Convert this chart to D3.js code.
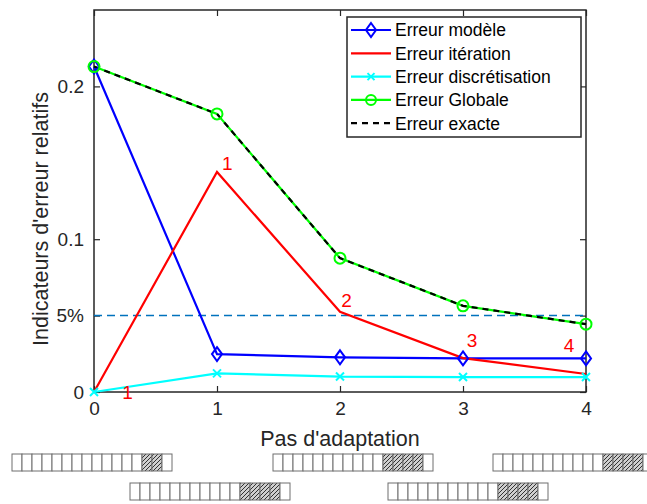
<!DOCTYPE html>
<html><head><meta charset="utf-8">
<script src="https://cdn.jsdelivr.net/npm/d3@7"></script>
<style>
body{margin:0;background:#fff;}
text{font-family:"Liberation Sans",Arial,Helvetica,sans-serif;}
</style></head>
<body><svg id="c" width="647" height="504"></svg>
<script>
// ---- data ----
const steps = [0, 1, 2, 3, 4];
const errModele = [0.213, 0.0248, 0.0227, 0.0220, 0.0220];
const errIteration = [0.0, 0.144, 0.0525, 0.0222, 0.0118];
const errDiscret = [0.0, 0.0122, 0.0101, 0.0098, 0.0098];
const errGlobale = [0.213, 0.182, 0.0876, 0.0564, 0.0444];
const errExacte = [0.213, 0.182, 0.0876, 0.0564, 0.0444];
const seuil = 0.05;
const yTickVals = [0, 0.05, 0.1, 0.2];
const yTickLabels = ["0", "5%", "0.1", "0.2"];
const xTickLabels = ["0", "1", "2", "3", "4"];
const legendNames = ["Erreur modèle", "Erreur itération", "Erreur discrétisation", "Erreur Globale", "Erreur exacte"];
const annX = [0.23, 1.04, 2.01, 3.03, 3.82];
const annY = [-0.0005, 0.1497, 0.060, 0.034, 0.0307];
const annText = ["1", "1", "2", "3", "4"];
const meshCells = 16;
const hatchStart = [13, 11, 11, 11, 11];
const hatchEnd = [14, 14, 14, 14, 14];

// ---- layout ----
const svg = d3.select("#c");
const L = 94, R = 586, T = 10, B = 392;
const x = d3.scaleLinear().domain([0, 4]).range([L, R]);
const y = d3.scaleLinear().domain([0, 0.25]).range([B, T]);
const axisCol = "#262626";

const defs = svg.append("defs");
const pat = defs.append("pattern").attr("id", "hatch").attr("patternUnits", "userSpaceOnUse")
  .attr("width", 4).attr("height", 4);
pat.append("rect").attr("width", 4).attr("height", 4).attr("fill", "#cfcfcf");
pat.append("path").attr("d", "M-1,1 l2,-2 M0,4 l4,-4 M3,5 l2,-2").attr("stroke", "#333").attr("stroke-width", 1);
defs.append("clipPath").attr("id", "plotclip").append("rect")
  .attr("x", L - 8).attr("y", T - 8).attr("width", R - L + 16).attr("height", B - T + 16);

// axes box
svg.append("rect").attr("x", L).attr("y", T).attr("width", R - L).attr("height", B - T)
  .attr("fill", "none").attr("stroke", axisCol).attr("stroke-width", 1.5);

// x axis
const xAxis = d3.axisBottom(x).tickValues(steps).tickFormat((d, i) => xTickLabels[i]).tickSize(-6).tickPadding(10);
const gx = svg.append("g").attr("transform", `translate(0,${B})`).call(xAxis);
const xTop = d3.axisTop(x).tickValues(steps).tickFormat("").tickSize(-6);
const gxt = svg.append("g").attr("transform", `translate(0,${T})`).call(xTop);
// y axis
const yAxis = d3.axisLeft(y).tickValues(yTickVals).tickFormat((d, i) => yTickLabels[i]).tickSize(-6).tickPadding(10);
const gy = svg.append("g").attr("transform", `translate(${L},0)`).call(yAxis);
const yRight = d3.axisRight(y).tickValues(yTickVals).tickFormat("").tickSize(-6);
const gyr = svg.append("g").attr("transform", `translate(${R},0)`).call(yRight);
[gx, gxt, gy, gyr].forEach(g => {
  g.select(".domain").remove();
  g.selectAll(".tick line").attr("stroke", axisCol).attr("stroke-width", 1.2);
  g.selectAll(".tick text").attr("fill", axisCol).attr("font-size", 19)
    .attr("font-family", "'Liberation Sans',Arial,sans-serif");
});

// axis labels
svg.append("text").attr("x", x(2)).attr("y", 446).attr("text-anchor", "middle")
  .attr("font-size", 21.5).attr("fill", axisCol).text("Pas d'adaptation");
svg.append("text").attr("transform", `translate(48,219) rotate(-90)`).attr("text-anchor", "middle")
  .attr("font-size", 21.5).attr("fill", axisCol).text("Indicateurs d'erreur relatifs");

const plot = svg.append("g").attr("clip-path", "url(#plotclip)");

// threshold line
plot.append("line").attr("x1", x(0)).attr("x2", x(4)).attr("y1", y(seuil)).attr("y2", y(seuil))
  .attr("stroke", "#0072BD").attr("stroke-width", 1.5).attr("stroke-dasharray", "8,5");

const line = d3.line().x((d, i) => x(steps[i])).y(d => y(d));
function series(vals, color, dash) {
  plot.append("path").datum(vals).attr("d", line).attr("fill", "none").attr("stroke", color)
    .attr("stroke-width", 2.2).attr("stroke-dasharray", dash || null).attr("stroke-linejoin", "miter");
}
series(errModele, "#0000ff");
series(errIteration, "#ff0000");
series(errDiscret, "#00ffff");
series(errGlobale, "#00ff00");
series(errExacte, "#000000", "6,5");

// markers
function diamond(g, cx, cy, r) {
  g.append("path").attr("d", `M${cx},${cy - r}L${cx + r * 0.72},${cy}L${cx},${cy + r}L${cx - r * 0.72},${cy}Z`)
    .attr("fill", "none").attr("stroke", "#0000ff").attr("stroke-width", 2);
}
function xmark(g, cx, cy, r, c) {
  g.append("path").attr("d", `M${cx - r},${cy - r}L${cx + r},${cy + r}M${cx - r},${cy + r}L${cx + r},${cy - r}`)
    .attr("stroke", c).attr("stroke-width", 2);
}
function circ(g, cx, cy, r) {
  g.append("circle").attr("cx", cx).attr("cy", cy).attr("r", r).attr("fill", "none")
    .attr("stroke", "#00ff00").attr("stroke-width", 2);
}
errModele.forEach((v, i) => diamond(plot, x(steps[i]), y(v), 7));
errDiscret.forEach((v, i) => xmark(plot, x(steps[i]), y(v), 4, "#00ffff"));
errGlobale.forEach((v, i) => circ(plot, x(steps[i]), y(v), 5.5));

// annotations
annText.forEach((t, i) => {
  svg.append("text").attr("x", x(annX[i])).attr("y", y(annY[i])).attr("dy", "0.35em")
    .attr("font-size", 19).attr("fill", "#ff0000").text(t);
});

// legend
const lg = svg.append("g");
lg.append("rect").attr("x", 347).attr("y", 17).attr("width", 234).attr("height", 120)
  .attr("fill", "#fff").attr("stroke", axisCol).attr("stroke-width", 1.5);
const legColors = ["#0000ff", "#ff0000", "#00ffff", "#00ff00", "#000000"];
legendNames.forEach((n, i) => {
  const ly = 30 + i * 23.3;
  lg.append("line").attr("x1", 351).attr("x2", 391).attr("y1", ly).attr("y2", ly)
    .attr("stroke", legColors[i]).attr("stroke-width", 2.2).attr("stroke-dasharray", i === 4 ? "6,5" : null);
  if (i === 0) diamond(lg, 371, ly, 7);
  if (i === 2) xmark(lg, 371, ly, 3.5, "#00ffff");
  if (i === 3) circ(lg, 371, ly, 5);
  lg.append("text").attr("x", 395).attr("y", ly).attr("dy", "0.36em").attr("font-size", 17.5)
    .attr("fill", "#000").text(n);
});

// mesh strips below the chart
const stripX = [12, 130, 273, 388, 493];
const stripY = [454, 483, 454, 483, 454];
const cw = 10, ch = 17;
steps.forEach((s, k) => {
  const g = svg.append("g");
  const cells = d3.range(meshCells);
  g.selectAll("rect").data(cells).join("rect")
    .attr("x", c => stripX[k] + c * cw).attr("y", stripY[k]).attr("width", cw).attr("height", ch)
    .attr("fill", c => (c >= hatchStart[k] && c <= hatchEnd[k]) ? "url(#hatch)" : "#fff")
    .attr("stroke", "#6e6e6e").attr("stroke-width", 1);
});
</script></body></html>
